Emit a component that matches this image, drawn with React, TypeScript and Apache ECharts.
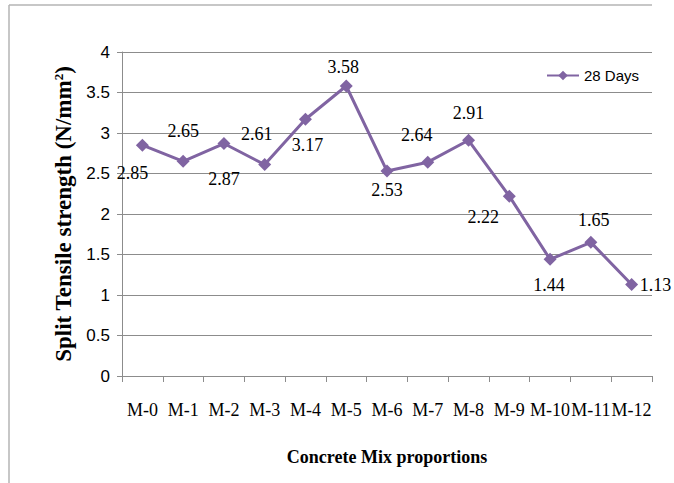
import React, { useEffect, useRef } from "react";
import * as echarts from "echarts";

const categories = ["M-0", "M-1", "M-2", "M-3", "M-4", "M-5", "M-6", "M-7", "M-8", "M-9", "M-10", "M-11", "M-12"];
const values28 = [2.85, 2.65, 2.87, 2.61, 3.17, 3.58, 2.53, 2.64, 2.91, 2.22, 1.44, 1.65, 1.13];
const yTicks = { min: 0, max: 4, interval: 0.5 };
const seriesName = "28 Days";

// label placement offsets relative to each point (px)
const labelOffsets: [number, number][] = [
  [-10, 28], [0, -30], [0, 35], [-8, -31], [2, 26], [-3, -19], [0, 19],
  [-11, -27], [0, -27], [-26, 21], [-1, 26], [3, -22], [24, 1],
];

const SERIF = "'Liberation Serif', 'DejaVu Serif', serif";
const NARROW = "'Liberation Sans Narrow', 'Liberation Sans', sans-serif";

export default function App() {
  const ref = useRef<HTMLDivElement>(null);
  useEffect(() => {
    if (!ref.current) return;
    const chart = echarts.init(ref.current, undefined, { renderer: "svg" });
    const purple = "#8064A2";
    const gridColor = "#8c8c8c";
    chart.setOption({
      animation: false,
      backgroundColor: "#ffffff",
      textStyle: { fontFamily: SERIF },
      grid: { left: 122, right: 22, top: 52, bottom: 107 },
      legend: {
        left: 541,
        top: 63,
        itemWidth: 32,
        itemHeight: 12,
        itemGap: 5,
        data: [seriesName],
        textStyle: { fontFamily: NARROW, fontSize: 15, color: "#000" },
      },
      graphic: [
        { type: "line", shape: { x1: 9, y1: 5, x2: 652, y2: 5 }, style: { stroke: "#b4b4b4", lineWidth: 1.5 } },
        { type: "line", shape: { x1: 9, y1: 5, x2: 9, y2: 483 }, style: { stroke: "#b4b4b4", lineWidth: 1.5 } },
      ],
      xAxis: {
        type: "category",
        data: categories,
        boundaryGap: true,
        name: "Concrete Mix proportions",
        nameLocation: "middle",
        nameGap: 72,
        nameTextStyle: { fontFamily: SERIF, fontWeight: "bold", fontSize: 18, color: "#000" },
        axisLine: { lineStyle: { color: gridColor, width: 1 } },
        axisTick: { show: true, length: 6, lineStyle: { color: gridColor } },
        axisLabel: { interval: 0, margin: 25, fontFamily: SERIF, fontSize: 18, color: "#000" },
        splitLine: { show: false },
      },
      yAxis: {
        type: "value",
        min: yTicks.min,
        max: yTicks.max,
        interval: yTicks.interval,
        name: "Split Tensile strength (N/mm{sup|2})",
        nameLocation: "middle",
        nameGap: 45,
        nameTextStyle: {
          fontFamily: SERIF,
          fontWeight: "bold",
          fontSize: 23,
          color: "#000",
          rich: {
            sup: { fontFamily: SERIF, fontWeight: "bold", fontSize: 13, verticalAlign: "top", padding: [0, 0, 10, 0], color: "#000" },
          },
        },
        axisLine: { show: true, lineStyle: { color: gridColor, width: 1 } },
        axisTick: { show: true, length: 5, lineStyle: { color: gridColor } },
        axisLabel: {
          margin: 12,
          fontFamily: NARROW,
          fontSize: 17,
          color: "#000",
        },
        splitLine: { show: true, lineStyle: { color: gridColor, width: 1 } },
      },
      series: [
        {
          name: seriesName,
          type: "line",
          data: values28.map((v, i) => ({
            value: v,
            label: { offset: labelOffsets[i] },
          })),
          symbol: "diamond",
          symbolSize: 13,
          lineStyle: { color: purple, width: 3 },
          itemStyle: { color: purple },
          label: {
            show: true,
            position: "inside",
            align: "center",
            verticalAlign: "middle",
            fontFamily: SERIF,
            fontSize: 18,
            color: "#000",
          },
        },
      ],
    });
    return () => chart.dispose();
  }, []);
  return <div ref={ref} style={{ position: "fixed", left: 0, top: 0, width: 674, height: 483 }} />;
}
